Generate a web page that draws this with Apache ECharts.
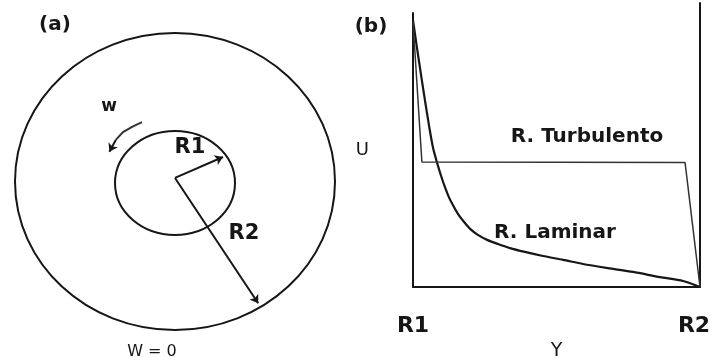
<!DOCTYPE html>
<html>
<head>
<meta charset="utf-8">
<script src="https://cdn.jsdelivr.net/npm/echarts@6/dist/echarts.min.js"></script>
<style>html,body{margin:0;padding:0;background:#fff}#c{width:712px;height:357px}</style>
</head>
<body>
<div id="c"></div>
<script>
// ---------- Panel (a): geometry in normalised units (outer radius = 1) ----------
var circles = [            // [cx, cy, rx, ry]
  [0, 0, 1, 1],
  [0, -0.01, 0.375, 0.35]
];
var arrowR1 = [[0, 0.024], [0.3, 0.165]];
var arrowR2 = [[0, 0.024], [0.52, -0.82]];
var arcW = [[-0.206, 0.40], [-0.265, 0.37], [-0.325, 0.333], [-0.37, 0.28]];
var arcWTip = [[-0.37, 0.28], [-0.41, 0.2]];

// ---------- Panel (b): velocity profiles ----------
var xTickLabels = ['R1', 'R2'];
var laminarX = [0, 0.014, 0.028, 0.042, 0.056, 0.070, 0.084, 0.098, 0.111, 0.125, 0.139, 0.157, 0.178, 0.199, 0.226, 0.258, 0.296, 0.338, 0.390, 0.453, 0.523, 0.592, 0.679, 0.767, 0.861, 0.941, 1];
var laminarU = [0.974, 0.872, 0.774, 0.679, 0.588, 0.507, 0.453, 0.405, 0.365, 0.328, 0.299, 0.266, 0.237, 0.212, 0.190, 0.172, 0.157, 0.142, 0.128, 0.113, 0.099, 0.084, 0.069, 0.055, 0.036, 0.022, 0];
var turbX = [0, 0.031, 0.948, 1];
var turbU = [0.97, 0.456, 0.454, 0];

function pairs(xs, ys) { return xs.map(function (x, i) { return [x, ys[i]]; }); }

var ink = '#161616';
var fontB = '"DejaVu Sans", sans-serif';
var chart = echarts.init(document.getElementById('c'));
chart.setOption({
  backgroundColor: '#fff',
  animation: false,
  grid: [
    { left: 15, top: 33, width: 320, height: 297, outerBoundsMode: 'none', containLabel: false },
    { left: 413, top: 13, width: 287, height: 274, outerBoundsMode: 'none', containLabel: false },
    { left: 700, top: 3, width: 1, height: 284, outerBoundsMode: 'none', containLabel: false }
  ],
  xAxis: [
    { gridIndex: 0, type: 'value', min: -1, max: 1, show: false },
    { gridIndex: 1, type: 'value', min: 0, max: 1, interval: 1,
      axisLine: { show: true, lineStyle: { color: ink, width: 2 } },
      axisTick: { show: false }, splitLine: { show: false },
      axisLabel: { margin: 28, fontFamily: fontB, fontWeight: 'bold', fontSize: 22, color: ink,
        formatter: function (v) { return v === 0 ? '{a|' + xTickLabels[0] + '}' : '{b|' + xTickLabels[1] + '}'; },
        rich: {
          a: { fontFamily: fontB, fontWeight: 'bold', fontSize: 22, color: ink },
          b: { fontFamily: fontB, fontWeight: 'bold', fontSize: 22, color: ink, padding: [0, 12, 0, 0] }
        } },
      name: 'Y', nameLocation: 'middle', nameGap: 52,
      nameTextStyle: { fontFamily: fontB, fontSize: 19, color: ink } },
    { gridIndex: 2, type: 'value', min: 0, max: 1, show: false }
  ],
  yAxis: [
    { gridIndex: 0, type: 'value', min: -1, max: 1, show: false },
    { gridIndex: 1, type: 'value', min: 0, max: 1,
      axisLine: { show: true, lineStyle: { color: ink, width: 2 } },
      axisTick: { show: false }, splitLine: { show: false }, axisLabel: { show: false },
      name: 'U', nameLocation: 'middle', nameGap: 44, nameRotate: 0,
      nameTextStyle: { fontFamily: fontB, fontSize: 18, color: ink, padding: [0, 0, 4, 0] } },
    { gridIndex: 2, type: 'value', min: 0, max: 1,
      axisLine: { show: true, lineStyle: { color: ink, width: 2 } },
      axisTick: { show: false }, splitLine: { show: false }, axisLabel: { show: false } }
  ],
  series: [
    {
      type: 'custom', xAxisIndex: 0, yAxisIndex: 0, data: circles,
      renderItem: function (params, api) {
        var c = api.coord([api.value(0), api.value(1)]);
        var s = api.size([api.value(2), api.value(3)]);
        return { type: 'ellipse', shape: { cx: c[0], cy: c[1], rx: s[0], ry: s[1] },
          style: { fill: 'none', stroke: ink, lineWidth: 2 } };
      }
    },
    {
      type: 'lines', coordinateSystem: 'cartesian2d', xAxisIndex: 0, yAxisIndex: 0,
      symbol: ['none', 'arrow'], symbolSize: 8,
      lineStyle: { color: ink, width: 2, opacity: 1 },
      data: [{ coords: arrowR1 }, { coords: arrowR2 }, { coords: arcWTip }]
    },
    {
      type: 'lines', coordinateSystem: 'cartesian2d', xAxisIndex: 0, yAxisIndex: 0, polyline: true,
      lineStyle: { color: '#333', width: 2, opacity: 1 },
      data: [{ coords: arcW }]
    },
    {
      type: 'line', xAxisIndex: 1, yAxisIndex: 1, data: pairs(laminarX, laminarU),
      smooth: 0.25, showSymbol: false, lineStyle: { color: ink, width: 2.2 }
    },
    {
      type: 'line', xAxisIndex: 1, yAxisIndex: 1, data: pairs(turbX, turbU),
      showSymbol: false, lineStyle: { color: '#333', width: 1.5 }
    }
  ],
  graphic: [
    { type: 'text', x: 55, y: 25, style: { text: '(a)', font: 'bold 20px ' + fontB, fill: ink, align: 'center', verticalAlign: 'middle' } },
    { type: 'text', x: 371, y: 27, style: { text: '(b)', font: 'bold 20px ' + fontB, fill: ink, align: 'center', verticalAlign: 'middle' } },
    { type: 'text', x: 109, y: 107, style: { text: 'w', font: 'bold 17px ' + fontB, fill: ink, align: 'center', verticalAlign: 'middle' } },
    { type: 'text', x: 190, y: 148, style: { text: 'R1', font: 'bold 21px ' + fontB, fill: ink, align: 'center', verticalAlign: 'middle' } },
    { type: 'text', x: 244, y: 234, style: { text: 'R2', font: 'bold 21px ' + fontB, fill: ink, align: 'center', verticalAlign: 'middle' } },
    { type: 'text', x: 152, y: 352, style: { text: 'W = 0', font: '16px ' + fontB, fill: ink, align: 'center', verticalAlign: 'middle' } },
    { type: 'text', x: 587, y: 137, style: { text: 'R. Turbulento', font: 'bold 20px ' + fontB, fill: ink, align: 'center', verticalAlign: 'middle' } },
    { type: 'text', x: 555, y: 233, style: { text: 'R. Laminar', font: 'bold 20px ' + fontB, fill: ink, align: 'center', verticalAlign: 'middle' } }
  ]
});
</script>
</body>
</html>
